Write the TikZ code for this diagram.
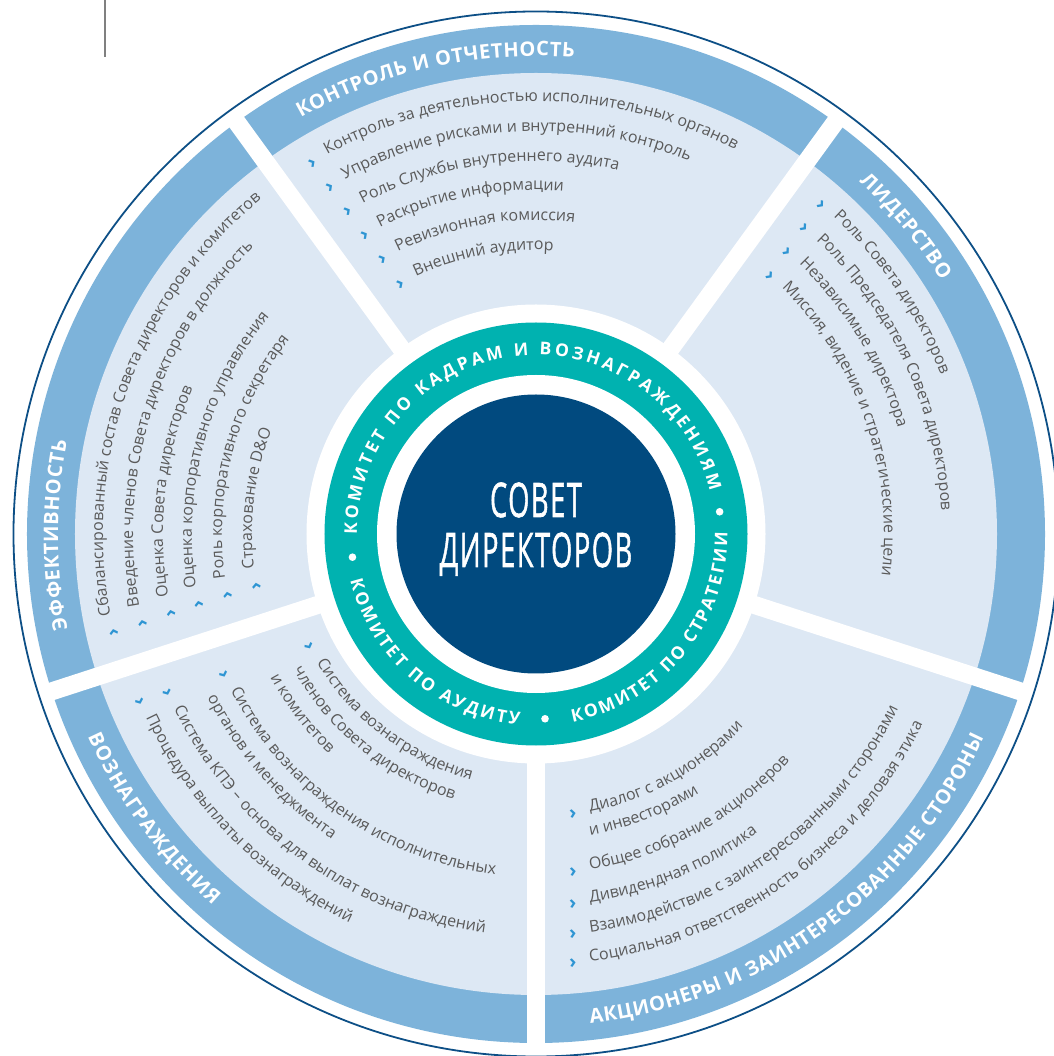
\documentclass[tikz,border=0pt]{standalone}
\usepackage{fontspec}
\setmainfont{Open Sans}
\usepackage{graphicx}
\usepackage{tikz}
\definecolor{segblue}{RGB}{221,232,244}
\definecolor{bandblue}{RGB}{125,179,218}
\definecolor{ringteal}{RGB}{0,178,176}
\definecolor{coreblue}{RGB}{1,74,127}
\definecolor{rimblue}{RGB}{13,79,134}
\definecolor{itemgray}{RGB}{90,90,90}
\definecolor{chevblue}{RGB}{46,149,211}
\newcommand\itemfont{\fontsize{16}{18}\selectfont\color{itemgray}}
\newcommand\headfont{\fontsize{20}{22}\selectfont\bfseries\color{white}}
\newcommand\ringfont{\fontsize{17.5}{20}\selectfont\bfseries\color{white}}
\newcommand\arcchar[5]{\node[inner sep=0pt, outer sep=0pt, anchor=base, rotate=#2] at (#1:#3) {#4#5};}
\ExplSyntaxOn
\fp_new:N \g_arc_ang_fp
\fp_new:N \g_arc_step_fp
\NewDocumentCommand \arctext { m m m m m m m }
 {
  \fp_gset:Nn \g_arc_ang_fp { #3 - (#1) * asind( (#4) / (#2) ) }
  \str_set:Nn \l_tmpa_str {#7}
  \str_replace_all:Nnn \l_tmpa_str { ~ } { | }
  \str_map_inline:Nn \l_tmpa_str
   {
    \str_if_eq:nnTF {##1} {|}
     { \hbox_set:Nn \l_tmpa_box { \pgfinterruptpicture #5 \scan_stop: \hskip \fontdimen2\font \endpgfinterruptpicture } }
     { \hbox_set:Nn \l_tmpa_box { \pgfinterruptpicture #5 \scan_stop: ##1 \endpgfinterruptpicture } }
    \fp_gset:Nn \g_arc_step_fp { ( \dim_to_fp:n { \box_wd:N \l_tmpa_box } + (#6) ) / (#2) / deg }
    \str_if_eq:nnF {##1} {|}
     {
      \exp_args:Nxx \arcchar
       { \fp_eval:n { \g_arc_ang_fp - (#1) * \g_arc_step_fp / 2 } }
       { \fp_eval:n { \g_arc_ang_fp - (#1) * ( \g_arc_step_fp / 2 + 90 ) } }
       {#2} {#5} {##1}
     }
    \fp_gsub:Nn \g_arc_ang_fp { (#1) * \g_arc_step_fp }
   }
 }
\ExplSyntaxOff
\newcommand\cwitem[3]{\arctext{1}{#2}{#1}{54}{\itemfont}{0}{#3}}
\newcommand\ccwitem[3]{\arctext{-1}{#2}{#1}{54}{\itemfont}{0}{#3}}
\newcommand\cwchev[3]{\pgfmathsetmacro\sta{#2-asin(37/#3)}\node[chev, rotate=\sta-90] (#1) at (\sta:#3) {›};}
\newcommand\ccwchev[3]{\pgfmathsetmacro\sta{#2+asin(37/#3)}\node[chev, rotate=\sta+90] (#1) at (\sta:#3) {›};}

\begin{document}
\begin{tikzpicture}[x=1pt, y=1pt,
 chev/.style={text=chevblue, font=\fontsize{19}{20}\selectfont\bfseries, inner sep=0pt, anchor=center},
 core/.style={text=white, anchor=base, inner sep=0pt, font=\fontsize{47.6}{50}\selectfont\addfontfeature{LetterSpace=6, FakeBold=1.5}}]
 \useasboundingbox (-536,-522) rectangle (517,534);
 \draw[gray, line width=1.3] (-431,534) -- (-431,477);
 \fill[bandblue] (0,0) circle[radius=509];
 \fill[segblue] (0,0) circle[radius=461];
 \foreach \a in {54,126,198,270,342}
  \draw[white, line width=18] (0,0) -- (\a:515);
 \fill[white] (0,0) circle[radius=229.5];
 \fill[ringteal] (0,0) circle[radius=211.5];
 \fill[white] (0,0) circle[radius=159];
 \fill[coreblue] (0,0) circle[radius=139.5];
 \draw[rimblue, line width=1.8] (0,0) circle[radius=522.5];

 \node[core] (sovet) at (0,17) {\scalebox{0.57}[1]{СОВЕТ}};
 \node[core] (direktorov) at (0,-33) {\scalebox{0.57}[1]{ДИРЕКТОРОВ}};

 \arctext{1}{179}{180.6}{0}{\ringfont}{3.1}{КОМИТЕТ ПО КАДРАМ И ВОЗНАГРАЖДЕНИЯМ}
 \arctext{-1}{191.5}{193.7}{0}{\ringfont}{2.6}{КОМИТЕТ ПО АУДИТУ}
 \arctext{-1}{191.5}{280.7}{0}{\ringfont}{2.1}{КОМИТЕТ ПО СТРАТЕГИИ}
 \foreach \a in {187.2,272.8,6.9}
  \fill[white] (\a:185) circle[radius=3.8];

 \arctext{1}{478}{126}{54}{\headfont}{0.6}{КОНТРОЛЬ И ОТЧЕТНОСТЬ}
 \arctext{1}{478}{54}{54}{\headfont}{0.6}{ЛИДЕРСТВО}
 \arctext{1}{478}{198}{54}{\headfont}{0.6}{ЭФФЕКТИВНОСТЬ}
 \arctext{-1}{492}{198}{54}{\headfont}{0.9}{ВОЗНАГРАЖДЕНИЯ}
 \arctext{-1}{492}{270}{54}{\headfont}{0.6}{АКЦИОНЕРЫ И ЗАИНТЕРЕСОВАННЫЕ СТОРОНЫ}

 \cwitem{126}{433}{Контроль за деятельностью исполнительных органов}
 \cwitem{126}{403}{Управление рисками и внутренний контроль}
 \cwitem{126}{373}{Роль Службы внутреннего аудита}
 \cwitem{126}{344}{Раскрытие информации}
 \cwitem{126}{314}{Ревизионная комиссия}
 \cwitem{126}{284}{Внешний аудитор}
 \cwchev{ko1}{126}{433} \cwchev{ko2}{126}{403} \cwchev{ko3}{126}{373}
 \cwchev{ko4}{126}{344} \cwchev{ko5}{126}{314} \cwchev{ko6}{126}{284}

 \cwitem{54}{435}{Роль Совета директоров}
 \cwitem{54}{406}{Роль Председателя Совета директоров}
 \cwitem{54}{377}{Независимые директора}
 \cwitem{54}{348}{Миссия, видение и стратегические цели}
 \cwchev{li1}{54}{435} \cwchev{li2}{54}{406} \cwchev{li3}{54}{377} \cwchev{li4}{54}{348}

 \cwitem{198}{433}{Сбалансированный состав Совета директоров и комитетов}
 \cwitem{198}{403}{Введение членов Совета директоров в должность}
 \cwitem{198}{373}{Оценка Совета директоров}
 \cwitem{198}{344}{Оценка корпоративного управления}
 \cwitem{198}{314}{Роль корпоративного секретаря}
 \cwitem{198}{284}{Страхование D&O}
 \cwchev{ef1}{198}{433} \cwchev{ef2}{198}{403} \cwchev{ef3}{198}{373}
 \cwchev{ef4}{198}{344} \cwchev{ef5}{198}{314} \cwchev{ef6}{198}{284}

 \ccwitem{198}{254}{Система вознаграждения}
 \ccwitem{198}{278}{членов Совета директоров}
 \ccwitem{198}{302}{и комитетов}
 \ccwitem{198}{343}{Система вознаграждения исполнительных}
 \ccwitem{198}{367}{органов и менеджмента}
 \ccwitem{198}{402}{Система КПЭ – основа для выплат вознаграждений}
 \ccwitem{198}{431}{Процедура выплаты вознаграждений}
 \ccwchev{vo1}{198}{254} \ccwchev{vo2}{198}{343} \ccwchev{vo3}{198}{402} \ccwchev{vo4}{198}{431}

 \ccwitem{270}{283}{Диалог с акционерами}
 \ccwitem{270}{306}{и инвесторами}
 \ccwitem{270}{340}{Общее собрание акционеров}
 \ccwitem{270}{372}{Дивидендная политика}
 \ccwitem{270}{402}{Взаимодействие с заинтересованными сторонами}
 \ccwitem{270}{431}{Социальная ответственность бизнеса и деловая этика}
 \ccwchev{ak1}{270}{283} \ccwchev{ak2}{270}{340} \ccwchev{ak3}{270}{372}
 \ccwchev{ak4}{270}{402} \ccwchev{ak5}{270}{431}
\end{tikzpicture}
\end{document}
